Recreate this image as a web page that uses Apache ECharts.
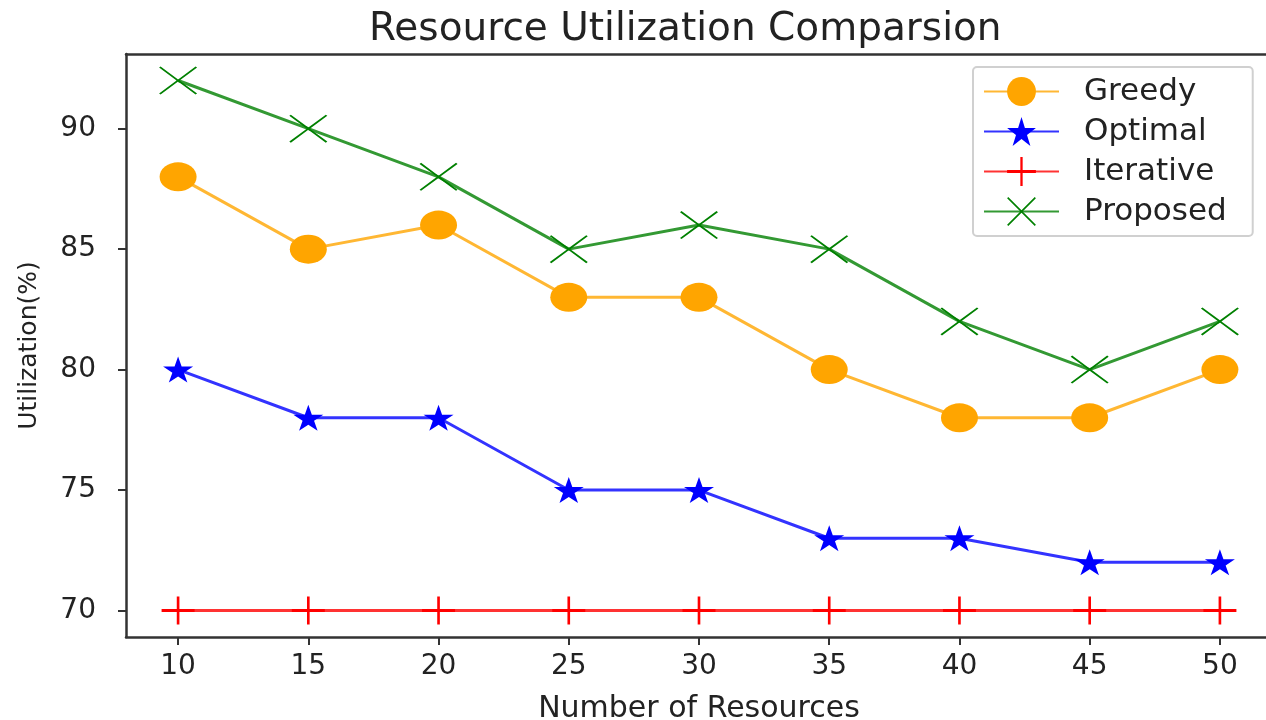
<!DOCTYPE html>
<html>
<head>
<meta charset="utf-8">
<script src="https://cdn.jsdelivr.net/npm/echarts@6/dist/echarts.min.js"></script>
<style>
  html, body { margin: 0; padding: 0; background: #fff; }
  #chart { width: 1266px; height: 720px; }
</style>
</head>
<body>
<div id="chart"></div>
<script>
const resources = [10, 15, 20, 25, 30, 35, 40, 45, 50];
const greedy = [88, 85, 86, 83, 83, 80, 78, 78, 80];
const optimal = [80, 78, 78, 75, 75, 73, 73, 72, 72];
const iterative = [70, 70, 70, 70, 70, 70, 70, 70, 70];
const proposed = [92, 90, 88, 85, 86, 85, 82, 80, 82];
const yTicks = [70, 75, 80, 85, 90];

// star marker shape built from angles (outer / inner radius)
const starPath = () => {
  const pts = [];
  for (let i = 0; i < 10; i++) {
    const r = i % 2 === 0 ? 50 : 19.1;
    const a = (90 + i * 36) * Math.PI / 180;
    pts.push(`${(50 + r * Math.cos(a)).toFixed(2)},${(50 - r * Math.sin(a)).toFixed(2)}`);
  }
  return 'path://M' + pts.join(' L') + ' Z';
};
const plusPath = 'path://M46,0 L54,0 L54,45 L100,45 L100,55 L54,55 L54,100 L46,100 L46,55 L0,55 L0,45 L46,45 Z';
const crossPath = 'path://M0,4 L4,0 L50,46 L96,0 L100,4 L54,50 L100,96 L96,100 L50,54 L4,100 L0,96 L46,50 Z';

const pair = (ys) => resources.map((x, i) => [x, ys[i]]);
const font = 'DejaVu Sans';
const spine = { color: '#333', width: 2.5 };

const makeSeries = (name, ys, color, symbol, size) => ({
  name,
  type: 'line',
  data: pair(ys),
  symbol,
  symbolSize: size,
  showAllSymbol: true,
  lineStyle: { color, width: 3, opacity: 0.8 },
  itemStyle: { color, opacity: 1 },
  emphasis: { disabled: true },
  animation: false,
});

const chart = echarts.init(document.getElementById('chart'));
chart.setOption({
  backgroundColor: '#fff',
  textStyle: { fontFamily: font },
  title: {
    text: 'Resource Utilization Comparsion',
    left: 364,
    top: 5,
    textStyle: { fontFamily: font, fontSize: 39, fontWeight: 'normal', color: '#222' },
  },
  grid: { left: 126, right: -6, top: 54, bottom: 83, outerBoundsMode: 'none' },
  legend: {
    left: 973,
    top: 67,
    orient: 'vertical',
    padding: [9, 26, 9, 10],
    itemGap: 9,
    itemWidth: 75,
    itemHeight: 36,
    backgroundColor: '#fff',
    borderColor: '#d0d0d0',
    borderWidth: 2,
    borderRadius: 4,
    textStyle: { fontFamily: font, fontSize: 31, color: '#222', padding: [0, 0, 0, 20] },
  },
  xAxis: [
    {
      type: 'value',
      min: 8,
      max: 52,
      name: 'Number of Resources',
      nameLocation: 'middle',
      nameGap: 57,
      nameTextStyle: { fontFamily: font, fontSize: 30, color: '#222' },
      splitLine: { show: false },
      axisLine: { lineStyle: spine },
      axisTick: { customValues: resources, length: 8, lineStyle: { color: '#333', width: 2 } },
      axisLabel: { customValues: resources, margin: 16, fontSize: 28, color: '#222', fontFamily: font },
    },
    {
      type: 'value',
      position: 'top',
      min: 8,
      max: 52,
      splitLine: { show: false },
      axisLine: { show: true, lineStyle: spine },
      axisTick: { show: false },
      axisLabel: { show: false },
    },
  ],
  yAxis: {
    type: 'value',
    min: 68.9,
    max: 93.1,
    name: 'Utilization(%)',
    nameLocation: 'middle',
    nameGap: 84,
    nameTextStyle: { fontFamily: font, fontSize: 25, color: '#222' },
    splitLine: { show: false },
    axisLine: { show: true, lineStyle: spine },
    axisTick: { show: true, customValues: yTicks, length: 8, lineStyle: { color: '#333', width: 2 } },
    axisLabel: { customValues: yTicks, margin: 30, fontSize: 28, color: '#222', fontFamily: font },
  },
  series: [
    makeSeries('Greedy', greedy, '#FFA500', 'circle', [37, 29]),
    makeSeries('Optimal', optimal, '#0000FF', starPath(), [30, 26]),
    makeSeries('Iterative', iterative, '#FF0000', plusPath, [33, 28]),
    makeSeries('Proposed', proposed, '#008000', crossPath, [38, 28]),
  ],
});
</script>
</body>
</html>
